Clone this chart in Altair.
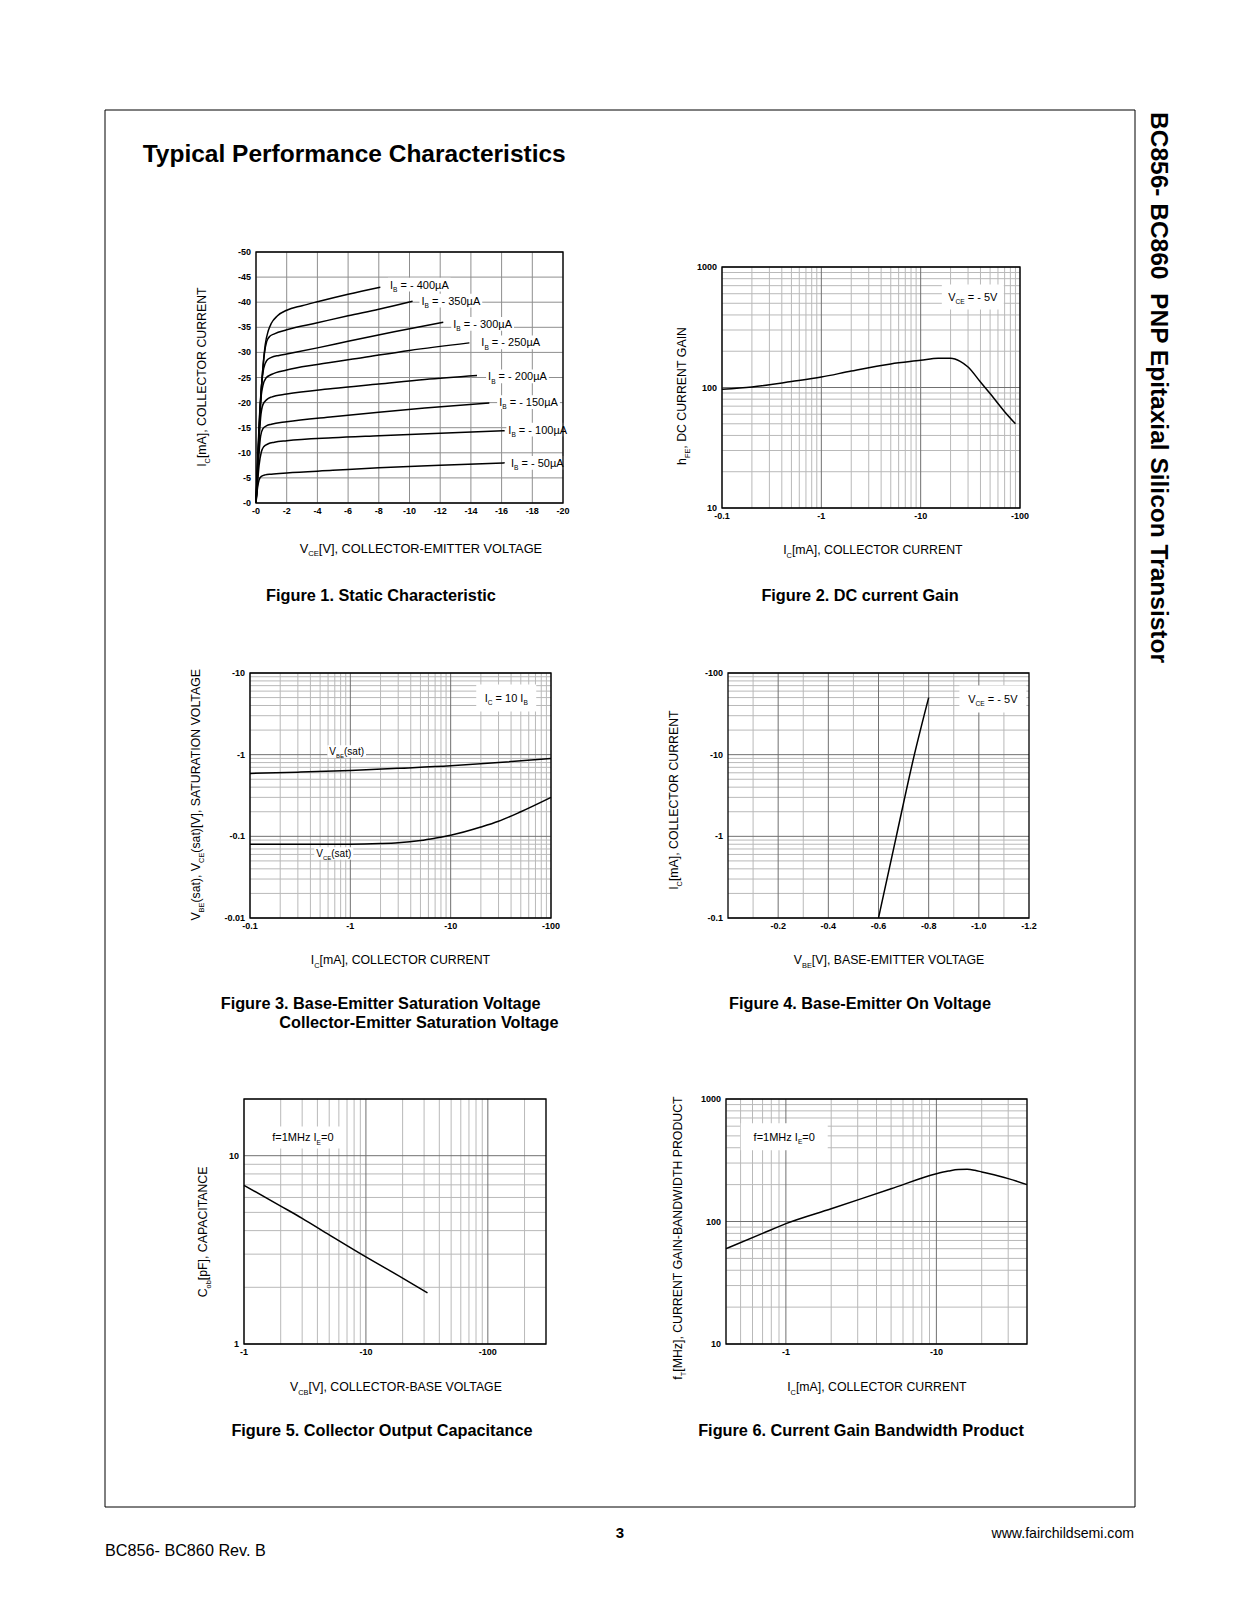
import math
import altair as alt
import pandas as pd

FONT = "Liberation Sans"
W, H = 1224, 1600

# ===================== DATA (magnitudes; PNP quantities are negative) =====================
# Figure 1 - static characteristic: |VCE| [V] -> |IC| [mA], one curve per |IB|
f1_vce_400 = [0, 0.15, 0.3, 0.45, 0.6, 0.8, 1.0, 1.4, 2, 3, 4, 6, 8.1]
f1_ic_400 = [0, 10, 20, 27, 31.5, 34.3, 35.8, 37.3, 38.4, 39.3, 40.1, 41.6, 43.0]
f1_vce_350 = [0, 0.12, 0.25, 0.4, 0.55, 0.7, 0.9, 1.2, 2, 4, 6, 8, 10.2]
f1_ic_350 = [0, 9, 18, 25, 29.8, 32.2, 33.2, 33.7, 34.5, 35.9, 37.3, 38.6, 40.2]
f1_vce_300 = [0, 0.1, 0.2, 0.35, 0.5, 0.7, 1.0, 1.5, 2, 4, 6, 9, 12.2]
f1_ic_300 = [0, 8, 15.5, 23, 26.8, 28.4, 29.0, 29.4, 29.7, 30.9, 32.2, 34.1, 36.0]
f1_vce_250 = [0, 0.1, 0.2, 0.3, 0.45, 0.65, 1.0, 2, 4, 7, 10, 13.9]
f1_ic_250 = [0, 7, 14, 20, 23.4, 24.9, 25.6, 26.5, 27.6, 29.0, 30.4, 31.9]
f1_vce_200 = [0, 0.1, 0.2, 0.3, 0.45, 0.7, 1.0, 2, 5, 8, 11, 14.4]
f1_ic_200 = [0, 6, 12.5, 17, 19.6, 20.6, 21.1, 21.7, 22.8, 23.7, 24.6, 25.4]
f1_vce_150 = [0, 0.1, 0.2, 0.3, 0.45, 0.7, 1.0, 2, 5, 8, 11, 15.2]
f1_ic_150 = [0, 5, 10, 13.3, 14.8, 15.4, 15.7, 16.2, 17.2, 18.1, 18.9, 19.9]
f1_vce_100 = [0, 0.1, 0.2, 0.35, 0.5, 0.8, 1.2, 2, 5, 8, 12, 16.2]
f1_ic_100 = [0, 4, 7.5, 10.2, 11.2, 11.8, 12.1, 12.4, 13.0, 13.4, 13.9, 14.4]
f1_vce_50 = [0, 0.1, 0.2, 0.35, 0.6, 1.0, 2, 5, 8, 12, 16.2]
f1_ic_50 = [0, 3.0, 4.6, 5.3, 5.6, 5.75, 6.0, 6.5, 7.0, 7.5, 8.0]
f1_ib = ["400", "350", "300", "250", "200", "150", "100", "50"]
f1_label_x = [8.73, 10.78, 12.85, 14.68, 15.12, 15.84, 16.44, 16.61]
f1_label_y = [43.5, 40.3, 35.7, 32.0, 25.2, 20.1, 14.6, 8.0]
f1_x_ticks = [0, 2, 4, 6, 8, 10, 12, 14, 16, 18, 20]
f1_y_ticks = [0, 5, 10, 15, 20, 25, 30, 35, 40, 45, 50]

# Figure 2 - DC current gain: |IC| [mA] -> hFE
f2_ic = [0.1, 0.2, 0.5, 1, 2, 5, 10, 15, 20, 25, 30, 40, 50, 70, 90]
f2_hfe = [96.5, 101, 112, 122, 137, 157, 168, 175, 175, 165, 148, 111, 89, 63, 50]

# Figure 3 - saturation voltages: |IC| [mA] -> |V| [V]
f3_ic_vbe = [0.1, 0.3, 1, 3, 10, 30, 100]
f3_vbe = [0.59, 0.61, 0.64, 0.68, 0.73, 0.80, 0.90]
f3_ic_vce = [0.1, 0.5, 1, 2, 3, 5, 7, 10, 20, 30, 50, 100]
f3_vce = [0.08, 0.08, 0.08, 0.0815, 0.0835, 0.089, 0.095, 0.103, 0.13, 0.153, 0.2, 0.3]

# Figure 4 - base-emitter on voltage: |VBE| [V] -> |IC| [mA]
f4_vbe = [0.6, 0.671, 0.743, 0.8]
f4_ic = [0.1, 1, 10, 50]

# Figure 5 - collector output capacitance: |VCB| [V] -> Cob [pF]
f5_vcb = [1, 2, 3, 5, 10, 20, 32]
f5_cob = [6.96, 5.4, 4.65, 3.8, 2.9, 2.24, 1.87]

# Figure 6 - current gain bandwidth product: |IC| [mA] -> fT [MHz]
f6_ic = [0.4, 0.7, 1, 2, 5, 10, 12, 14, 16, 18, 20, 30, 40]
f6_ft = [60, 80, 96, 127, 185, 245, 258, 266, 267, 262, 254, 224, 200]

# ===================== helpers =====================
AW = {' ': 278, '\u00a0': 278, '!': 278, '(': 333, ')': 333, ',': 278, '-': 333, '.': 278,
      '/': 278, ':': 278, '=': 584, '[': 278, ']': 278, 'µ': 576,
      'A': 667, 'B': 667, 'C': 722, 'D': 722, 'E': 667, 'F': 611, 'G': 778, 'H': 722,
      'I': 278, 'J': 500, 'K': 667, 'L': 556, 'M': 833, 'N': 722, 'O': 778, 'P': 667,
      'Q': 778, 'R': 722, 'S': 667, 'T': 611, 'U': 722, 'V': 667, 'W': 944, 'X': 667,
      'Y': 667, 'Z': 611, 'a': 556, 'b': 556, 'c': 500, 'd': 556, 'e': 556, 'f': 278,
      'g': 556, 'h': 556, 'i': 222, 'j': 222, 'k': 500, 'l': 222, 'm': 833, 'n': 556,
      'o': 556, 'p': 556, 'q': 556, 'r': 333, 's': 500, 't': 278, 'u': 556, 'v': 500,
      'w': 722, 'x': 500, 'y': 500, 'z': 500}
SUB = 0.6


def tw(s, size):
    return sum(AW.get(ch, 556) for ch in s) * size / 1000.0


def seg_width(segs, size):
    return sum(tw(t, size * SUB if s else size) for t, s in segs)


DUMMY = pd.DataFrame({"k": [0]})


def rich(segs, size, enc, data=None, angle=0, anchor="center", weight="normal"):
    data = DUMMY if data is None else data
    subsz = size * SUB
    ws = [tw(t, subsz if s else size) for t, s in segs]
    off = -sum(ws) / 2 if anchor == "center" else 0.0
    out = []
    for (t, s), w in zip(segs, ws):
        fs = subsz if s else size
        core = t.lstrip(" ")
        lead = tw(t[:len(t) - len(core)], fs)   # leading blanks become an explicit offset
        core = core.rstrip(" ").replace(" ", "\u00a0")
        out.append(alt.Chart(data).mark_text(
            text=core, align="left", baseline="alphabetic", font=FONT,
            fontSize=fs, fontWeight=weight, angle=angle,
            dx=off + lead, dy=0.36 * size + (0.3 * size if s else 0), color="black"
        ).encode(**enc))
        off += w
    return out


def ptext(segs, size, x, y, **kw):
    return rich(segs, size, dict(x=alt.value(x), y=alt.value(y)), **kw)


def log_ticks(lo, hi):
    major, minor = [], []
    for e in range(-3, 4):
        for m in range(1, 10):
            v = round(m * 10.0 ** e, 6)
            if lo * 0.9999 <= v <= hi * 1.0001:
                (major if m == 1 else minor).append(v)
    return major, minor


MAJ = "#707070"
MIN = "#b9b9b9"


class Panel:
    def __init__(self, L, R, T, B, xtype, xdom, ytype, ydom):
        self.L, self.R, self.T, self.B = L, R, T, B
        self.xtype, self.ytype = xtype, ytype
        self.xdom, self.ydom = list(xdom), list(ydom)
        self.sx = alt.Scale(type=xtype, domain=self.xdom, range=[L, R], nice=False)
        self.sy = alt.Scale(type=ytype, domain=self.ydom, range=[B, T], nice=False)
        self.grids, self.boxes, self.lines, self.texts = [], [], [], []

    def X(self, f):
        return alt.X(f"{f}:Q", scale=self.sx, axis=None)

    def Y(self, f):
        return alt.Y(f"{f}:Q", scale=self.sy, axis=None)

    def shift_x(self, v, dpx):
        if self.xtype == "log":
            span = math.log10(self.xdom[1] / self.xdom[0])
            return v * 10 ** (dpx * span / (self.R - self.L))
        return v + dpx * (self.xdom[1] - self.xdom[0]) / (self.R - self.L)

    def shift_y(self, v, dpx):
        if self.ytype == "log":
            span = math.log10(self.ydom[1] / self.ydom[0])
            return v * 10 ** (dpx * span / (self.B - self.T))
        return v + dpx * (self.ydom[1] - self.ydom[0]) / (self.B - self.T)

    def grid(self, xt, yt, color):
        if xt:
            df = pd.DataFrame({"v": xt, "lo": self.ydom[0], "hi": self.ydom[1]})
            self.grids.append(alt.Chart(df).mark_rule(color=color, strokeWidth=1).encode(
                x=self.X("v"), y=self.Y("lo"), y2=alt.Y2("hi")))
        if yt:
            df = pd.DataFrame({"v": yt, "lo": self.xdom[0], "hi": self.xdom[1]})
            self.grids.append(alt.Chart(df).mark_rule(color=color, strokeWidth=1).encode(
                y=self.Y("v"), x=self.X("lo"), x2=alt.X2("hi")))

    def box(self, x0, x1, y0, y1):
        df = pd.DataFrame({"x0": [x0], "x1": [x1], "y0": [y0], "y1": [y1]})
        self.boxes.append(alt.Chart(df).mark_rect(color="white").encode(
            x=self.X("x0"), x2=alt.X2("x1"), y=self.Y("y0"), y2=alt.Y2("y1")))

    def curve(self, xs, ys, name):
        df = pd.DataFrame({"x": xs, "y": ys, "s": name})
        self.lines.append(alt.Chart(df).mark_line(
            color="black", strokeWidth=1.5, interpolate="monotone").encode(
            x=self.X("x"), y=self.Y("y"), detail="s:N"))

    def label(self, segs, size, x, y, anchor="center", bw=None, bh=None, pad=2):
        w = seg_width(segs, size)
        bw = w + 2 * pad if bw is None else bw
        bh = size * 1.25 if bh is None else bh
        if anchor == "center":
            x0, x1 = self.shift_x(x, -bw / 2), self.shift_x(x, bw / 2)
        else:
            x0, x1 = self.shift_x(x, -pad), self.shift_x(x, bw - pad)
        self.box(x0, x1, self.shift_y(y, -bh / 2), self.shift_y(y, bh / 2))
        df = pd.DataFrame({"x": [x], "y": [y]})
        self.texts += rich(segs, size, dict(x=self.X("x"), y=self.Y("y")), data=df, anchor=anchor)

    def build(self, xlab, ylab):
        fr = pd.DataFrame({"x0": [self.xdom[0]], "x1": [self.xdom[1]],
                           "y0": [self.ydom[0]], "y1": [self.ydom[1]]})
        frame = alt.Chart(fr).mark_rect(fill="transparent", stroke="black", strokeWidth=1.3).encode(
            x=self.X("x0"), x2=alt.X2("x1"), y=self.Y("y0"), y2=alt.Y2("y1"))
        dfx = pd.DataFrame({"v": [k for k, _ in xlab], "t": [t for _, t in xlab], "lo": self.ydom[0]})
        xl = alt.Chart(dfx).mark_text(font=FONT, fontSize=9, fontWeight="bold", baseline="middle",
                                      align="center", dy=8, color="black").encode(
            x=self.X("v"), y=self.Y("lo"), text="t:N")
        dfy = pd.DataFrame({"v": [k for k, _ in ylab], "t": [t for _, t in ylab], "lo": self.xdom[0]})
        yl = alt.Chart(dfy).mark_text(font=FONT, fontSize=9, fontWeight="bold", baseline="middle",
                                      align="right", dx=-5, color="black").encode(
            y=self.Y("v"), x=self.X("lo"), text="t:N")
        return alt.layer(*self.grids, *self.boxes, *self.lines, *self.texts, frame, xl, yl)


def neg(v):
    return "-" + (str(int(v)) if float(v).is_integer() else str(v))


panels = []

# ---------- Figure 1 ----------
p1 = Panel(248, 555, 244, 495, "linear", [0, 20], "linear", [0, 50])
p1.grid(f1_x_ticks, f1_y_ticks, "#8f8f8f")
f1_series = [(f1_vce_400, f1_ic_400), (f1_vce_350, f1_ic_350), (f1_vce_300, f1_ic_300),
             (f1_vce_250, f1_ic_250), (f1_vce_200, f1_ic_200), (f1_vce_150, f1_ic_150),
             (f1_vce_100, f1_ic_100), (f1_vce_50, f1_ic_50)]
for ib, (xs, ys) in zip(f1_ib, f1_series):
    p1.curve(xs, ys, ib)
for ib, lx, ly in zip(f1_ib, f1_label_x, f1_label_y):
    p1.label([("I", False), ("B", True), (" = - " + ib + "µA", False)], 11, lx, ly, anchor="left")
panels.append(p1.build([(v, neg(v)) for v in f1_x_ticks], [(v, neg(v)) for v in f1_y_ticks]))

# ---------- Figure 2 ----------
p2 = Panel(714, 1012, 259, 500, "log", [0.1, 100], "log", [10, 1000])
xM, xm = log_ticks(0.1, 100)
yM, ym = log_ticks(10, 1000)
p2.grid(xm, ym, MIN)
p2.grid(xM, yM, MAJ)
p2.curve(f2_ic, f2_hfe, "hfe")
p2.label([("V", False), ("CE", True), (" = - 5V", False)], 11, 33.5, 565, bw=62, bh=25)
panels.append(p2.build([(0.1, "-0.1"), (1, "-1"), (10, "-10"), (100, "-100")],
                       [(10, "10"), (100, "100"), (1000, "1000")]))

# ---------- Figure 3 ----------
p3 = Panel(242, 543, 665, 910, "log", [0.1, 100], "log", [0.01, 10])
xM, xm = log_ticks(0.1, 100)
yM, ym = log_ticks(0.01, 10)
p3.grid(xm, ym, MIN)
p3.grid(xM, yM, MAJ)
p3.curve(f3_ic_vbe, f3_vbe, "vbe")
p3.curve(f3_ic_vce, f3_vce, "vce")
p3.label([("I", False), ("C", True), (" = 10 I", False), ("B", True)], 11, 35.8, 4.93, bw=60, bh=27)
p3.label([("V", False), ("BE", True), ("(sat)", False)], 10, 0.92, 1.09)
p3.label([("V", False), ("CE", True), ("(sat)", False)], 10, 0.684, 0.0616)
panels.append(p3.build([(0.1, "-0.1"), (1, "-1"), (10, "-10"), (100, "-100")],
                       [(0.01, "-0.01"), (0.1, "-0.1"), (1, "-1"), (10, "-10")]))

# ---------- Figure 4 ----------
p4 = Panel(720, 1021, 665, 910, "linear", [0, 1.2], "log", [0.1, 100])
yM, ym = log_ticks(0.1, 100)
p4.grid([0.1, 0.3, 0.5, 0.7, 0.9, 1.1], ym, MIN)
p4.grid([0.2, 0.4, 0.6, 0.8, 1.0], yM, MAJ)
p4.curve(f4_vbe, f4_ic, "ic")
p4.label([("V", False), ("CE", True), (" = - 5V", False)], 11, 1.056, 48, bw=67, bh=27)
panels.append(p4.build([(0.2, "-0.2"), (0.4, "-0.4"), (0.6, "-0.6"), (0.8, "-0.8"), (1.0, "-1.0"), (1.2, "-1.2")],
                       [(0.1, "-0.1"), (1, "-1"), (10, "-10"), (100, "-100")]))

# ---------- Figure 5 ----------
p5 = Panel(236, 538, 1091, 1336, "log", [1, 300], "log", [1, 20])
xM, xm = log_ticks(1, 300)
yM, ym = log_ticks(1, 20)
p5.grid(xm, ym, MIN)
p5.grid(xM, yM, MAJ)
p5.curve(f5_vcb, f5_cob, "cob")
p5.label([("f=1MHz I", False), ("E", True), ("=0", False)], 11, 3.04, 12.5, bw=80, bh=22)
panels.append(p5.build([(1, "-1"), (10, "-10"), (100, "-100")], [(1, "1"), (10, "10")]))

# ---------- Figure 6 ----------
p6 = Panel(718, 1019, 1091, 1336, "log", [0.4, 40], "log", [10, 1000])
xM, xm = log_ticks(0.4, 40)
yM, ym = log_ticks(10, 1000)
p6.grid(xm, ym, MIN)
p6.grid(xM, yM, MAJ)
p6.curve(f6_ic, f6_ft, "ft")
p6.label([("f=1MHz I", False), ("E", True), ("=0", False)], 11, 0.975, 491, bw=87, bh=27)
panels.append(p6.build([(1, "-1"), (10, "-10")], [(10, "10"), (100, "100"), (1000, "1000")]))

# ===================== page furniture =====================
page = []
page.append(alt.Chart(DUMMY).mark_rect(fill="transparent", stroke="black", strokeWidth=1).encode(
    x=alt.value(97), x2=alt.value(1127), y=alt.value(102), y2=alt.value(1499)))
page.append(alt.Chart(DUMMY).mark_text(
    text="Typical Performance Characteristics", align="left", baseline="alphabetic",
    font=FONT, fontSize=24.5, fontWeight="bold", color="black").encode(
    x=alt.value(134.7), y=alt.value(154)))
page.append(alt.Chart(DUMMY).mark_text(
    text="BC856- BC860\u00a0 PNP Epitaxial Silicon Transistor", align="center", baseline="middle",
    angle=90, font=FONT, fontSize=24.5, fontWeight="bold", color="black").encode(
    x=alt.value(1150), y=alt.value(379.5)))

CAP = 16.3
captions = [("Figure 1. Static Characteristic", 373, 588), ("Figure 2. DC current Gain", 852, 588),
            ("Figure 4. Base-Emitter On Voltage", 852, 996),
            ("Figure 5. Collector Output Capacitance", 374, 1423),
            ("Figure 6. Current Gain Bandwidth Product", 853, 1423)]
for t, x, y in captions:
    page.append(alt.Chart(DUMMY).mark_text(text=t, align="center", baseline="middle", font=FONT,
                                           fontSize=CAP, fontWeight="bold", color="black").encode(
        x=alt.value(x), y=alt.value(y)))
for t, x, y in [("Figure 3. Base-Emitter Saturation Voltage", 212.7, 996),
                ("Collector-Emitter Saturation Voltage", 271.3, 1015)]:
    page.append(alt.Chart(DUMMY).mark_text(text=t, align="left", baseline="middle", font=FONT,
                                           fontSize=CAP, fontWeight="bold", color="black").encode(
        x=alt.value(x), y=alt.value(y)))

TS = 12.3
titles = [
    ([("V", False), ("CE", True), ("[V], COLLECTOR-EMITTER VOLTAGE", False)], 414, 540, 0, 12.8),
    ([("I", False), ("C", True), ("[mA], COLLECTOR CURRENT", False)], 193.5, 369, 270, TS),
    ([("I", False), ("C", True), ("[mA], COLLECTOR CURRENT", False)], 865, 542, 0, TS),
    ([("h", False), ("FE", True), (", DC CURRENT GAIN", False)], 674, 388, 270, TS),
    ([("I", False), ("C", True), ("[mA], COLLECTOR CURRENT", False)], 392.6, 952, 0, TS),
    ([("V", False), ("BE", True), ("(sat), V", False), ("CE", True),
      ("(sat)[V], SATURATION VOLTAGE", False)], 188, 785, 270, TS),
    ([("V", False), ("BE", True), ("[V], BASE-EMITTER VOLTAGE", False)], 882, 952, 0, TS),
    ([("I", False), ("C", True), ("[mA], COLLECTOR CURRENT", False)], 666, 792, 270, TS),
    ([("V", False), ("CB", True), ("[V], COLLECTOR-BASE VOLTAGE", False)], 389, 1379, 0, TS),
    ([("C", False), ("ob", True), ("[pF], CAPACITANCE", False)], 194.5, 1223, 270, TS),
    ([("I", False), ("C", True), ("[mA], COLLECTOR CURRENT", False)], 869, 1379, 0, TS),
    ([("f", False), ("T", True), ("[MHz], CURRENT GAIN-BANDWIDTH PRODUCT", False)], 670, 1230, 270, TS),
]
for segs, x, y, ang, sz in titles:
    page += ptext(segs, sz, x, y, angle=ang)

page.append(alt.Chart(DUMMY).mark_text(text="3", align="center", baseline="middle", font=FONT,
                                       fontSize=15, fontWeight="bold", color="black").encode(
    x=alt.value(612), y=alt.value(1525)))
page.append(alt.Chart(DUMMY).mark_text(text="www.fairchildsemi.com", align="right", baseline="middle",
                                       font=FONT, fontSize=14.1, color="black").encode(
    x=alt.value(1126), y=alt.value(1526)))
page.append(alt.Chart(DUMMY).mark_text(text="BC856- BC860 Rev. B", align="left", baseline="middle",
                                       font=FONT, fontSize=16.2, color="black").encode(
    x=alt.value(97), y=alt.value(1543)))

chart = alt.layer(*panels, *page).resolve_scale(x="independent", y="independent").properties(
    width=W, height=H, padding=0, background="white",
    autosize=alt.AutoSizeParams(type="none")
).configure_view(strokeWidth=0)

chart.save("out.html", embed_options={"renderer": "svg", "actions": False})
